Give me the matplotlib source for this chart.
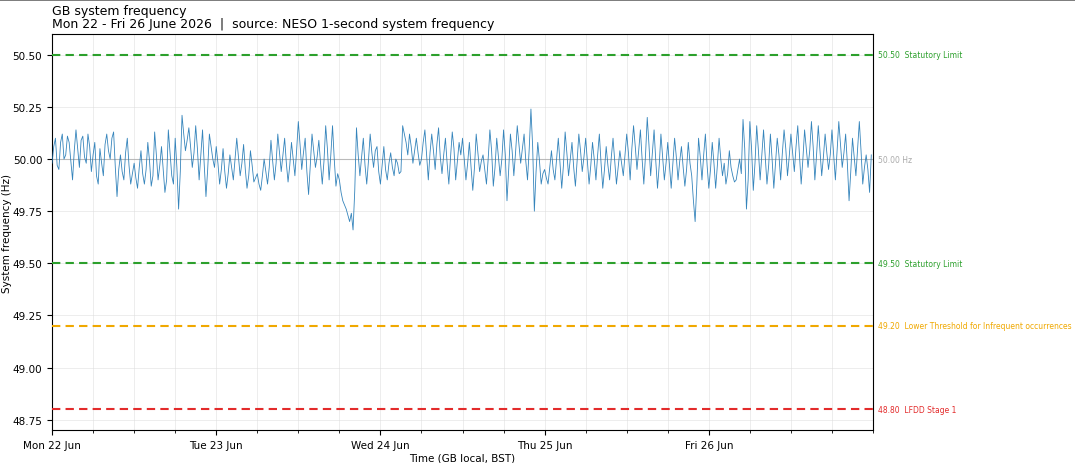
import matplotlib
matplotlib.use("Agg")
import matplotlib.pyplot as plt
import matplotlib.dates as mdates
import numpy as np
import pandas as pd

# 15-minute samples (Hz), Mon 22 Jun 00:00 onwards, one row = 3 hours
freq = [
    49.98, 50.06, 50.10, 49.97, 49.95, 50.08, 50.12, 50.00, 50.02, 50.11, 50.08, 49.99,
    49.90, 50.04, 50.14, 50.05, 49.96, 50.09, 50.11, 50.01, 49.98, 50.12, 50.06, 49.94,
    50.02, 50.08, 49.92, 49.88, 50.05, 49.98, 49.92, 50.07, 50.12, 50.04, 50.00, 50.10,
    50.13, 49.96, 49.82, 49.95, 50.02, 49.94, 49.90, 50.03, 50.10, 49.97, 49.88, 49.93,
    49.98, 49.91, 49.86, 49.96, 50.04, 49.93, 49.88, 49.95, 50.08, 49.99, 49.87, 49.92,
    50.13, 50.02, 49.90, 49.97, 50.06, 49.95, 49.84, 49.90, 50.14, 50.03, 49.92, 49.88,
    50.10, 49.96, 49.76, 49.94, 50.21, 50.12, 50.04, 50.09, 50.15, 50.06, 49.96, 50.03,
    50.16, 50.05, 49.90, 50.02, 50.14, 49.97, 49.82, 49.95, 50.12, 50.06, 50.00, 49.96,
    50.06, 49.98, 49.88, 49.95, 50.05, 49.94, 49.86, 49.93, 50.02, 49.96, 49.90, 50.00,
    50.10, 50.01, 49.92, 49.98, 50.07, 49.95, 49.86, 49.92, 50.04, 49.97, 49.89, 49.91,
    49.93, 49.88, 49.85, 49.92, 50.00, 49.94, 49.88, 49.96, 50.09, 49.99, 49.90, 49.98,
    50.12, 50.03, 49.94, 50.02, 50.10, 49.98, 49.89, 49.97, 50.08, 50.00, 49.92, 50.04,
    50.18, 50.07, 49.95, 50.03, 50.10, 49.94, 49.83, 49.97, 50.12, 50.04, 49.96, 50.01,
    50.09, 49.98, 49.88, 49.99, 50.16, 50.05, 49.90, 50.02, 50.16, 50.00, 49.87, 49.93,
    49.90, 49.84, 49.80, 49.78, 49.76, 49.73, 49.70, 49.74, 49.66, 49.85, 50.15, 50.02,
    49.92, 50.01, 50.10, 49.97, 49.88, 49.99, 50.12, 50.03, 49.96, 50.04, 50.06, 49.94,
    49.88, 49.97, 50.06, 49.95, 49.90, 49.98, 50.03, 49.96, 49.92, 50.00, 49.98, 49.93,
    49.94, 50.16, 50.12, 50.08, 50.02, 50.12, 50.06, 49.98, 50.04, 50.10, 50.03, 49.97,
    50.00, 50.08, 50.14, 50.02, 49.90, 50.03, 50.12, 50.04, 49.95, 50.07, 50.15, 50.01,
    49.93, 50.02, 50.10, 49.98, 49.88, 50.01, 50.13, 50.05, 49.90, 49.99, 50.08, 50.02,
    50.10, 50.00, 49.90, 49.98, 50.08, 49.96, 49.85, 49.96, 50.12, 50.03, 49.94, 49.99,
    50.02, 49.95, 49.88, 50.00, 50.14, 50.04, 49.87, 49.96, 50.10, 50.01, 49.92, 50.00,
    50.14, 50.02, 49.80, 49.95, 50.12, 50.04, 49.92, 50.03, 50.16, 50.07, 49.98, 50.05,
    50.12, 49.99, 49.90, 50.05, 50.24, 50.06, 49.75, 49.94, 50.08, 49.99, 49.88, 49.93,
    49.95, 49.91, 49.88, 49.96, 50.04, 49.95, 49.90, 50.00, 50.10, 49.98, 49.86, 49.97,
    50.13, 50.03, 49.92, 50.00, 50.08, 49.96, 49.87, 49.99, 50.12, 50.04, 49.94, 50.01,
    50.10, 49.99, 49.88, 49.97, 50.08, 50.00, 49.90, 50.02, 50.12, 49.98, 49.86, 49.95,
    50.06, 49.97, 49.90, 50.01, 50.10, 49.99, 49.88, 49.96, 50.04, 49.98, 49.92, 50.02,
    50.12, 50.03, 49.90, 50.05, 50.16, 50.06, 49.95, 50.04, 50.14, 50.00, 49.88, 50.02,
    50.20, 50.07, 49.92, 50.03, 50.14, 49.99, 49.86, 49.97, 50.12, 50.01, 49.90, 49.98,
    50.08, 49.97, 49.86, 49.98, 50.10, 50.01, 49.90, 49.99, 50.06, 49.96, 49.87, 49.95,
    50.08, 49.98, 49.92, 49.80, 49.70, 49.88, 50.10, 50.01, 49.90, 50.02, 50.12, 49.97,
    49.86, 49.95, 50.08, 49.98, 49.86, 49.97, 50.10, 50.00, 49.92, 49.98, 49.88, 49.93,
    50.04, 49.96, 49.92, 49.89, 49.90, 49.95, 50.00, 49.93, 50.19, 50.05, 49.76, 49.90,
    50.18, 50.05, 49.85, 49.98, 50.16, 50.04, 49.90, 50.02, 50.14, 50.01, 49.88, 49.97,
    50.12, 50.00, 49.86, 49.98, 50.10, 50.02, 49.90, 50.03, 50.14, 50.05, 49.92, 50.01,
    50.12, 50.03, 49.94, 50.06, 50.16, 50.02, 49.88, 50.00, 50.14, 50.05, 49.96, 50.04,
    50.18, 50.06, 49.90, 50.02, 50.16, 50.04, 49.92, 50.01, 50.12, 50.03, 49.95, 50.02,
    50.14, 50.02, 49.90, 50.04, 50.18, 50.07, 49.96, 50.03, 50.12, 49.98, 49.80, 49.94,
    50.10, 50.01, 49.92, 50.05, 50.18, 50.04, 49.88, 49.96, 50.02, 49.95, 49.84, 50.02,
]
start = "2026-06-22 00:00"
end = "2026-06-27 00:00"
day_ticks = ["2026-06-22", "2026-06-23", "2026-06-24", "2026-06-25", "2026-06-26"]

limit_values = [50.50, 49.50, 49.20, 48.80]
limit_names = ["Statutory Limit", "Statutory Limit",
               "Lower Threshold for Infrequent occurrences", "LFDD Stage 1"]
limit_colors = ["#2ca02c", "#2ca02c", "#f0a800", "#e32b2b"]
nominal = 50.0
yticks = [48.75, 49.00, 49.25, 49.50, 49.75, 50.00, 50.25, 50.50]

times = pd.date_range(start, periods=len(freq), freq="15min")

fig = plt.figure(figsize=(10.75, 4.64), dpi=100)
ax = fig.add_axes([0.0484, 0.071, 0.7637, 0.8536])

ax.plot(times, freq, color="#1f77b4", lw=0.6, alpha=0.9, zorder=3)
ax.axhline(nominal, color="#999999", lw=0.8, alpha=0.6, zorder=2)
ax.text(1.006, nominal, "%.2f Hz" % nominal, transform=ax.get_yaxis_transform(),
        color="#aaaaaa", fontsize=5.5, va="center", ha="left")

for v, name, c in zip(limit_values, limit_names, limit_colors):
    ax.axhline(v, color=c, lw=1.5, ls=(0, (4, 2.5)), zorder=4)
    ax.text(1.006, v, "%.2f  %s" % (v, name), transform=ax.get_yaxis_transform(),
            color=c, fontsize=5.5, va="center", ha="left")

ax.set_xlim(pd.Timestamp(start), pd.Timestamp(end))
ax.set_ylim(48.70, 50.60)
ax.set_yticks(yticks)
ax.yaxis.set_major_formatter(matplotlib.ticker.FormatStrFormatter("%.2f"))
ax.set_xticks(pd.to_datetime(day_ticks))
ax.xaxis.set_minor_locator(mdates.HourLocator(byhour=[0, 6, 12, 18]))
ax.xaxis.set_major_formatter(mdates.DateFormatter("%a %d %b"))
ax.tick_params(labelsize=7.5)

ax.grid(True, which="both", axis="x", color="#dddddd", lw=0.6, alpha=0.6)
ax.grid(True, which="major", axis="y", color="#dddddd", lw=0.6, alpha=0.6)

ax.set_xlabel("Time (GB local, BST)", fontsize=7.5, labelpad=2)
ax.set_ylabel("System frequency (Hz)", fontsize=7.5, labelpad=0)
ax.set_title("GB system frequency\nMon 22 - Fri 26 June 2026  |  source: NESO 1-second system frequency",
             loc="left", fontsize=9, pad=5, linespacing=1.0)

fig.add_artist(plt.Line2D([0, 1], [0.998, 0.998], color="#666666", lw=1.2,
                          transform=fig.transFigure))

fig.savefig("out.png", dpi=100)
